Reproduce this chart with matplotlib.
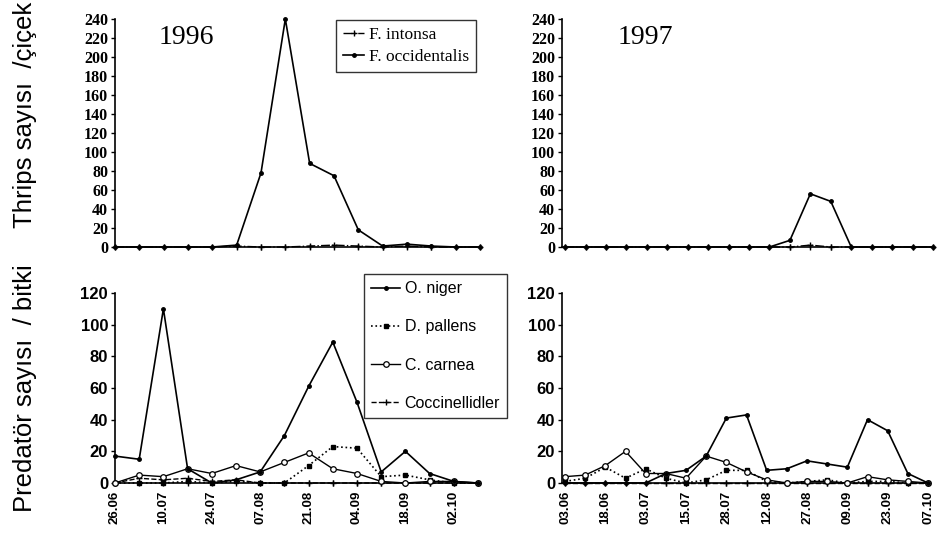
import matplotlib
matplotlib.use('Agg')
import matplotlib.pyplot as plt
import numpy as np

# thrips per flower
intonsa_1996 = [0, 0, 0, 0, 0, 1, 0, 0, 1, 2, 1, 0, 1, 0, 0, 0]
occidentalis_1996 = [0, 0, 0, 0, 0, 2, 78, 240, 88, 75, 18, 1, 3, 1, 0, 0]
intonsa_1997 = [0, 0, 0, 0, 0, 0, 0, 0, 0, 0, 0, 0, 2, 0, 0, 0, 0, 0, 0]
occidentalis_1997 = [0, 0, 0, 0, 0, 0, 0, 0, 0, 0, 0, 7, 56, 48, 0, 0, 0, 0, 0]

# predators per plant
niger_1996 = [17, 15, 110, 9, 0, 2, 7, 30, 61, 89, 51, 7, 20, 6, 1, 0]
pallens_1996 = [0, 0, 0, 1, 0, 1, 0, 0, 11, 23, 22, 4, 5, 2, 0, 0]
carnea_1996 = [0, 5, 4, 9, 6, 11, 7, 13, 19, 9, 6, 1, 0, 1, 1, 0]
cocc_1996 = [0, 3, 2, 3, 1, 2, 0, 0, 0, 0, 0, 0, 0, 0, 0, 0]

niger_1997 = [0, 0, 0, 0, 0, 6, 8, 17, 41, 43, 8, 9, 14, 12, 10, 40, 33, 6, 0]
pallens_1997 = [1, 3, 10, 3, 9, 3, 0, 2, 8, 8, 1, 0, 1, 2, 0, 1, 1, 0, 0]
carnea_1997 = [4, 5, 11, 20, 6, 6, 3, 17, 13, 7, 2, 0, 1, 1, 0, 4, 2, 1, 0]
cocc_1997 = [0, 0, 0, 0, 0, 0, 0, 0, 0, 0, 0, 0, 0, 0, 0, 0, 0, 0, 0]

dates_1996 = ['26.06', '10.07', '24.07', '07.08', '21.08', '04.09', '18.09', '02.10']
dates_1997 = ['03.06', '18.06', '03.07', '15.07', '28.07', '12.08', '27.08', '09.09', '23.09', '07.10']

W, H = 942, 536
fig = plt.figure(figsize=(W / 100, H / 100), dpi=100)


def box(x0, x1, ytop, ybot):
    return [x0 / W, 1 - ybot / H, (x1 - x0) / W, (ybot - ytop) / H]


ax_t96 = fig.add_axes(box(115, 480, 19, 247))
ax_t97 = fig.add_axes(box(562, 933, 19, 247))
ax_b96 = fig.add_axes(box(115, 478, 293, 483))
ax_b97 = fig.add_axes(box(562, 928, 293, 483))

serif = 'Liberation Serif'
sans = 'Liberation Sans'


def style_axes(ax, n, ymax, step, tickfont, tsize, labels=None, x0=0.0):
    for s in ['top', 'right']:
        ax.spines[s].set_visible(False)
    for s in ['left', 'bottom']:
        ax.spines[s].set_linewidth(1.2)
    ax.set_xlim(x0, n - 1)
    ax.set_ylim(0, ymax)
    ax.set_yticks(np.arange(0, ymax + 1, step))
    ax.set_xticks(np.arange(n))
    if labels is None:
        ax.set_xticklabels([''] * n)
    else:
        full = []
        for i in range(n):
            full.append(labels[i // 2] if i % 2 == 0 else '')
        ax.set_xticklabels(full, rotation=90, fontsize=9.5, fontfamily=sans,
                           fontweight='bold')
    ax.tick_params(axis='x', direction='inout', length=5, width=1, pad=3)
    ax.tick_params(axis='y', direction='out', length=3, width=1, pad=2)
    for t in ax.get_yticklabels():
        t.set_fontfamily(tickfont)
        t.set_fontweight('bold')
        t.set_fontsize(tsize)


def thrips(ax, intonsa, occ):
    x = np.arange(len(occ))
    ax.plot(x, intonsa, color='black', lw=1.0, ls='-.', marker='+', ms=4,
            mew=1.0, clip_on=False, label='F. intonsa', zorder=3)
    ax.plot(x, occ, color='black', lw=1.2, ls='-', marker='o', ms=2.5,
            clip_on=False, label='F. occidentalis', zorder=4)


def predators(ax, niger, pallens, carnea, cocc):
    x = np.arange(len(niger))
    ax.plot(x, niger, color='black', lw=1.2, ls='-', marker='o', ms=2.5,
            clip_on=False, label='O. niger', zorder=4)
    ax.plot(x, pallens, color='black', lw=1.2, ls=':', marker='s', ms=3.2,
            clip_on=False, label='D. pallens', zorder=3)
    ax.plot(x, carnea, color='black', lw=1.0, ls='-', marker='o', ms=4,
            mfc='white', mew=0.9, clip_on=False, label='C. carnea', zorder=3)
    ax.plot(x, cocc, color='black', lw=1.0, ls='--', marker='+', ms=4,
            clip_on=False, label='Coccinellidler', zorder=2)


thrips(ax_t96, intonsa_1996, occidentalis_1996)
thrips(ax_t97, intonsa_1997, occidentalis_1997)
predators(ax_b96, niger_1996, pallens_1996, carnea_1996, cocc_1996)
predators(ax_b97, niger_1997, pallens_1997, carnea_1997, cocc_1997)

style_axes(ax_t96, len(occidentalis_1996), 240, 20, serif, 11.5)
style_axes(ax_t97, len(occidentalis_1997), 240, 20, serif, 11.5, x0=-0.15)
style_axes(ax_b96, len(niger_1996), 120, 20, sans, 12, labels=dates_1996)
style_axes(ax_b97, len(niger_1997), 120, 20, sans, 12, labels=dates_1997, x0=-0.15)

ax_t96.text(0.12, 0.92, '1996', transform=ax_t96.transAxes, fontsize=20,
            fontfamily=serif, va='center', ha='left')
ax_t97.text(0.15, 0.92, '1997', transform=ax_t97.transAxes, fontsize=20,
            fontfamily=serif, va='center', ha='left')

leg1 = ax_t96.legend(loc='upper right', bbox_to_anchor=(0.99, 0.995),
                     prop={'family': serif, 'size': 12.5}, frameon=True,
                     fancybox=False, edgecolor='black', handlelength=1.2,
                     handletextpad=0.3, labelspacing=0.35, borderpad=0.4,
                     borderaxespad=0)
leg1.get_frame().set_linewidth(1.0)

leg2 = ax_b96.legend(loc='upper left', bbox_to_anchor=(0.686, 1.10),
                     prop={'family': sans, 'size': 11.5}, frameon=True,
                     fancybox=False, edgecolor='black', handlelength=1.8,
                     handletextpad=0.3, labelspacing=1.45, borderpad=0.45,
                     borderaxespad=0)
leg2.get_frame().set_linewidth(1.0)
leg2.set_zorder(10)

fig.text(0.027, 1 - 115 / H, 'Thrips sayısı  /çiçek', rotation=90,
         ha='center', va='center', fontsize=18.5, fontfamily=sans)
fig.text(0.027, 1 - 388 / H, 'Predatör sayısı  / bitki', rotation=90,
         ha='center', va='center', fontsize=18.5, fontfamily=sans)

fig.savefig('out.png', dpi=100)
